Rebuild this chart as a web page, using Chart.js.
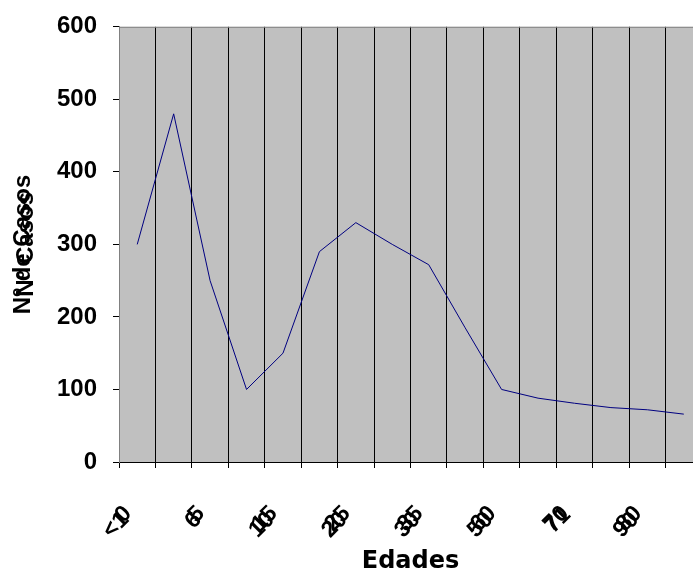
<!DOCTYPE html>
<html>
<head>
<meta charset="utf-8">
<script src="https://cdn.jsdelivr.net/npm/chart.js@4.4.1/dist/chart.umd.min.js"></script>
<style>
    html, body { margin: 0; padding: 0; background: #fff; overflow: hidden; }
</style>
</head>
<body>
<canvas id="myChart" width="702" height="574"></canvas>
<script>
// categorias (grupos de edad) y casos
const edades = ['0', '2', '5', '10', '15', '20', '25', '30', '35', '45', '60', '65', '70', '75', '80', '85'];
const casos = [300, 480, 250, 100, 150, 290, 330, 300, 272, 185, 100, 88, 81, 75, 72, 66];
// etiquetas del eje X (se ven superpuestas en el original)
const etiquetasX = [['0  ', '<1   '], '', ['5  ', '6   '], '', ['15  ', '10   '], '', ['25  ', '20   '], '',
    ['35  ', '30   '], '', ['60  ', '50   '], '', ['70  ', '71  '], '', ['80  ', '90   '], ''];
const ticksY = [0, 100, 200, 300, 400, 500, 600];
const tituloY = ['Nº de Casos', 'Nº Casos'];
const tituloX = 'Edades';

const FUENTE = "'Liberation Sans', Arial, sans-serif";

const fondoGris = {
    id: 'fondoGris',
    beforeDraw(chart) {
        const { ctx, chartArea: a } = chart;
        ctx.save();
        ctx.fillStyle = '#C0C0C0';
        ctx.fillRect(a.left, a.top, a.right - a.left, a.bottom - a.top);
        ctx.restore();
    },
    beforeDatasetsDraw(chart) {
        const { ctx, chartArea: a } = chart;
        ctx.save();
        ctx.strokeStyle = '#808080';
        ctx.lineWidth = 1;
        ctx.beginPath();
        ctx.moveTo(a.left, a.top + 0.5);
        ctx.lineTo(a.right, a.top + 0.5);
        ctx.stroke();
        ctx.restore();
    }
};

const ctx = document.getElementById('myChart').getContext('2d');
window.myChart = new Chart(ctx, {
    type: 'line',
    data: {
        labels: edades,
        datasets: [{
            data: casos,
            borderColor: '#000080',
            borderWidth: 1,
            pointRadius: 0,
            tension: 0,
            fill: false
        }]
    },
    options: {
        responsive: false,
        animation: false,
        devicePixelRatio: 1,
        layout: { padding: 0 },
        plugins: {
            legend: { display: false },
            tooltip: { enabled: false }
        },
        scales: {
            x: {
                offset: true,
                grid: {
                    offset: true,
                    color: '#000',
                    lineWidth: 1,
                    drawTicks: true,
                    tickLength: 6
                },
                border: { color: '#000', width: 1 },
                ticks: {
                    autoSkip: false,
                    minRotation: 45,
                    maxRotation: 45,
                    padding: 32,
                    color: '#000',
                    font: { family: FUENTE, size: 23, weight: 'bold', lineHeight: 0.1 },
                    callback: function(value, index) { return etiquetasX[index]; }
                },
                title: {
                    display: true,
                    text: tituloX,
                    color: '#000',
                    padding: { top: 0, bottom: 0 },
                    font: { family: "'DejaVu Sans', sans-serif", size: 24, weight: 'bold', lineHeight: 1 }
                },
                afterFit: function(scale) {
                    scale.height = 112;
                    scale.paddingLeft = 0;
                    scale.paddingRight = 0;
                }
            },
            y: {
                min: 0,
                max: 600,
                afterBuildTicks: function(scale) { scale.ticks = ticksY.map(v => ({ value: v })); },
                grid: {
                    drawOnChartArea: false,
                    drawTicks: true,
                    tickLength: 6,
                    color: '#000'
                },
                border: { color: '#808080', width: 1 },
                ticks: {
                    padding: 16,
                    color: '#000',
                    font: { family: FUENTE, size: 24, weight: 'bold', lineHeight: 0.9 }
                },
                title: {
                    display: true,
                    text: tituloY,
                    color: '#000',
                    padding: { top: 22, bottom: 0 },
                    font: { family: FUENTE, size: 24, weight: 'bold', lineHeight: 0.12 }
                },
                afterFit: function(scale) { scale.width = 119; }
            }
        }
    },
    plugins: [fondoGris]
});
</script>
</body>
</html>
